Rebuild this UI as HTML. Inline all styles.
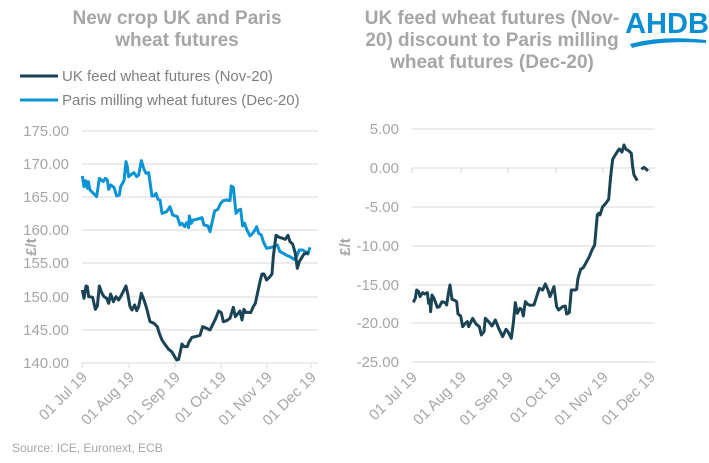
<!DOCTYPE html>
<html><head><meta charset="utf-8"><style>
html,body{margin:0;padding:0;background:#fff;}
svg{display:block;font-family:"Liberation Sans",sans-serif;}
</style></head><body>
<svg width="709" height="463" viewBox="0 0 709 463">
<g font-weight="bold" fill="#a6a6a6" font-size="19" text-anchor="middle">
<text x="177" y="24">New crop UK and Paris</text>
<text x="177" y="46">wheat futures</text>
<text x="492" y="24">UK feed wheat futures (Nov-</text>
<text x="492" y="46">20) discount to Paris milling</text>
<text x="492" y="68">wheat futures (Dec-20)</text>
</g>
<g font-size="15" fill="#7f7f7f">
<line x1="20" y1="76" x2="58" y2="76" stroke="#1b4356" stroke-width="3"/>
<text x="62" y="81">UK feed wheat futures (Nov-20)</text>
<line x1="20" y1="100" x2="58" y2="100" stroke="#0a94d6" stroke-width="3"/>
<text x="62" y="105">Paris milling wheat futures (Dec-20)</text>
</g>
<!-- AHDB logo -->
<text x="667" y="33" font-size="29" font-weight="bold" fill="#0a8fd4" text-anchor="middle">AHDB</text>
<path d="M630 44 Q662 35 706 40 L706 43 Q662 40 632 48 Z" fill="#0a8fd4"/>
<!-- left grid -->
<g stroke="#d9d9d9" stroke-width="1">
<line x1="82" y1="131" x2="318" y2="131"/><line x1="82" y1="164" x2="318" y2="164"/>
<line x1="82" y1="197" x2="318" y2="197"/><line x1="82" y1="230" x2="318" y2="230"/>
<line x1="82" y1="263" x2="318" y2="263"/><line x1="82" y1="297" x2="318" y2="297"/>
<line x1="82" y1="330" x2="318" y2="330"/><line x1="82" y1="363" x2="318" y2="363"/>
<line x1="82" y1="363" x2="82" y2="368"/><line x1="129" y1="363" x2="129" y2="368"/>
<line x1="175" y1="363" x2="175" y2="368"/><line x1="221" y1="363" x2="221" y2="368"/>
<line x1="267" y1="363" x2="267" y2="368"/><line x1="311" y1="363" x2="311" y2="368"/>
</g>
<g font-size="15" fill="#a6a6a6" text-anchor="end">
<text x="69" y="136">175.00</text><text x="69" y="169">170.00</text><text x="69" y="202">165.00</text>
<text x="69" y="235">160.00</text><text x="69" y="268">155.00</text><text x="69" y="302">150.00</text>
<text x="69" y="335">145.00</text><text x="69" y="368">140.00</text>
</g>
<text transform="translate(36,247) rotate(-90)" font-size="15" font-weight="bold" fill="#a6a6a6" text-anchor="middle">£/t</text>
<g font-size="15" fill="#a6a6a6" text-anchor="end">
<text transform="translate(88,378) rotate(-45)">01 Jul 19</text>
<text transform="translate(135,378) rotate(-45)">01 Aug 19</text>
<text transform="translate(181,378) rotate(-45)">01 Sep 19</text>
<text transform="translate(227,378) rotate(-45)">01 Oct 19</text>
<text transform="translate(273,378) rotate(-45)">01 Nov 19</text>
<text transform="translate(317,378) rotate(-45)">01 Dec 19</text>
</g>
<g transform="translate(70,110) scale(0.3333)" fill="none" stroke-width="9" stroke-linejoin="round">
<polyline stroke="#0a94d6" points="37,198 42,230 47,212 52,235 55,215 60,240 80,260 88,205 100,215 106,205 112,210 116,238 122,225 132,232 140,258 148,255 152,230 162,212 168,155 172,170 176,200 182,195 192,188 200,200 206,195 214,152 222,178 228,190 236,188 246,258 252,258 258,250 264,268 270,270 276,310 290,305 300,290 308,315 322,320 330,345 336,340 344,350 350,338 356,353 358,318 364,340 370,330 380,328 396,323 402,345 414,348 420,365 434,303 444,298 452,280 460,272 470,270 480,272 484,228 490,232 498,310 506,300 512,298 518,348 524,340 530,358 540,378 548,370 555,360 560,350 566,370 574,375 580,395 590,415 600,413 610,410 622,405 630,425 640,430 648,435 660,440 672,448 680,440 688,420 698,420 706,425 714,432 720,412"/>
<polyline stroke="#1b4356" points="37,540 42,565 48,528 52,530 56,560 68,562 76,598 82,588 88,528 96,550 102,560 110,565 116,580 122,552 130,575 138,560 146,570 152,560 168,528 174,555 180,590 186,600 194,585 200,602 206,590 214,550 222,570 230,595 240,635 252,640 262,650 268,670 276,690 286,705 296,718 306,726 314,740 320,750 326,748 336,702 342,710 352,710 356,698 366,682 376,680 390,676 398,650 410,655 420,660 436,628 446,603 454,608 460,635 470,632 480,625 490,592 496,620 502,613 510,603 516,630 522,598 528,608 534,607 542,608 550,590 556,580 570,515 576,492 582,492 590,510 600,500 606,492 610,440 618,376 628,382 638,385 646,388 654,376 660,395 668,402 676,430 682,475 688,455 694,445 702,432 710,430 716,426"/>
</g>
<!-- right grid -->
<g stroke="#d9d9d9" stroke-width="1">
<line x1="412" y1="129" x2="655" y2="129"/><line x1="412" y1="168" x2="655" y2="168"/>
<line x1="412" y1="207" x2="655" y2="207"/><line x1="412" y1="246" x2="655" y2="246"/>
<line x1="412" y1="285" x2="655" y2="285"/><line x1="412" y1="323" x2="655" y2="323"/>
<line x1="412" y1="362" x2="655" y2="362"/>
<line x1="412" y1="168" x2="412" y2="173"/><line x1="461" y1="168" x2="461" y2="173"/>
<line x1="508" y1="168" x2="508" y2="173"/><line x1="556" y1="168" x2="556" y2="173"/>
<line x1="603" y1="168" x2="603" y2="173"/><line x1="650" y1="168" x2="650" y2="173"/>
</g>
<g font-size="15" fill="#a6a6a6" text-anchor="end">
<text x="399" y="134">5.00</text><text x="399" y="173">0.00</text><text x="399" y="212">-5.00</text>
<text x="399" y="251">-10.00</text><text x="399" y="290">-15.00</text><text x="399" y="328">-20.00</text>
<text x="399" y="367">-25.00</text>
</g>
<text transform="translate(350,247) rotate(-90)" font-size="15" font-weight="bold" fill="#a6a6a6" text-anchor="middle">£/t</text>
<g font-size="15" fill="#a6a6a6" text-anchor="end">
<text transform="translate(418,378) rotate(-45)">01 Jul 19</text>
<text transform="translate(467,378) rotate(-45)">01 Aug 19</text>
<text transform="translate(514,378) rotate(-45)">01 Sep 19</text>
<text transform="translate(562,378) rotate(-45)">01 Oct 19</text>
<text transform="translate(609,378) rotate(-45)">01 Nov 19</text>
<text transform="translate(656,378) rotate(-45)">01 Dec 19</text>
</g>
<g transform="translate(340,110) scale(0.3333)" fill="none" stroke="#1b4356" stroke-width="9" stroke-linejoin="round">
<polyline points="220,577 226,565 230,540 236,545 240,560 248,548 254,552 262,548 266,580 270,570 272,605 276,555 282,565 292,592 298,590 306,575 316,578 320,585 326,545 330,525 336,568 346,572 350,575 354,612 362,618 368,650 376,640 382,635 386,650 398,625 408,642 418,650 424,675 432,665 436,625 446,635 456,648 466,630 476,655 488,680 498,658 504,665 514,685 520,640 526,578 532,610 540,595 546,600 550,618 556,575 562,582 570,586 582,585 590,560 598,535 608,540 616,522 624,540 630,560 642,530 650,590 656,600 662,595 668,590 676,588 680,612 688,608 694,540 706,540 710,538 714,505 722,478 730,473 740,455 748,440 756,420 764,405 772,315 776,310 780,315 788,290 796,282 806,268 812,200 818,148 824,138 832,125 838,117 846,126 852,105 858,118 866,122 874,130 878,170 882,195 888,205 892,212"/>
<polyline points="904,178 912,172 918,177 924,183"/>
</g>
<text x="12" y="452" font-size="12" fill="#a6a6a6">Source: ICE, Euronext, ECB</text>
</svg>
</body></html>
